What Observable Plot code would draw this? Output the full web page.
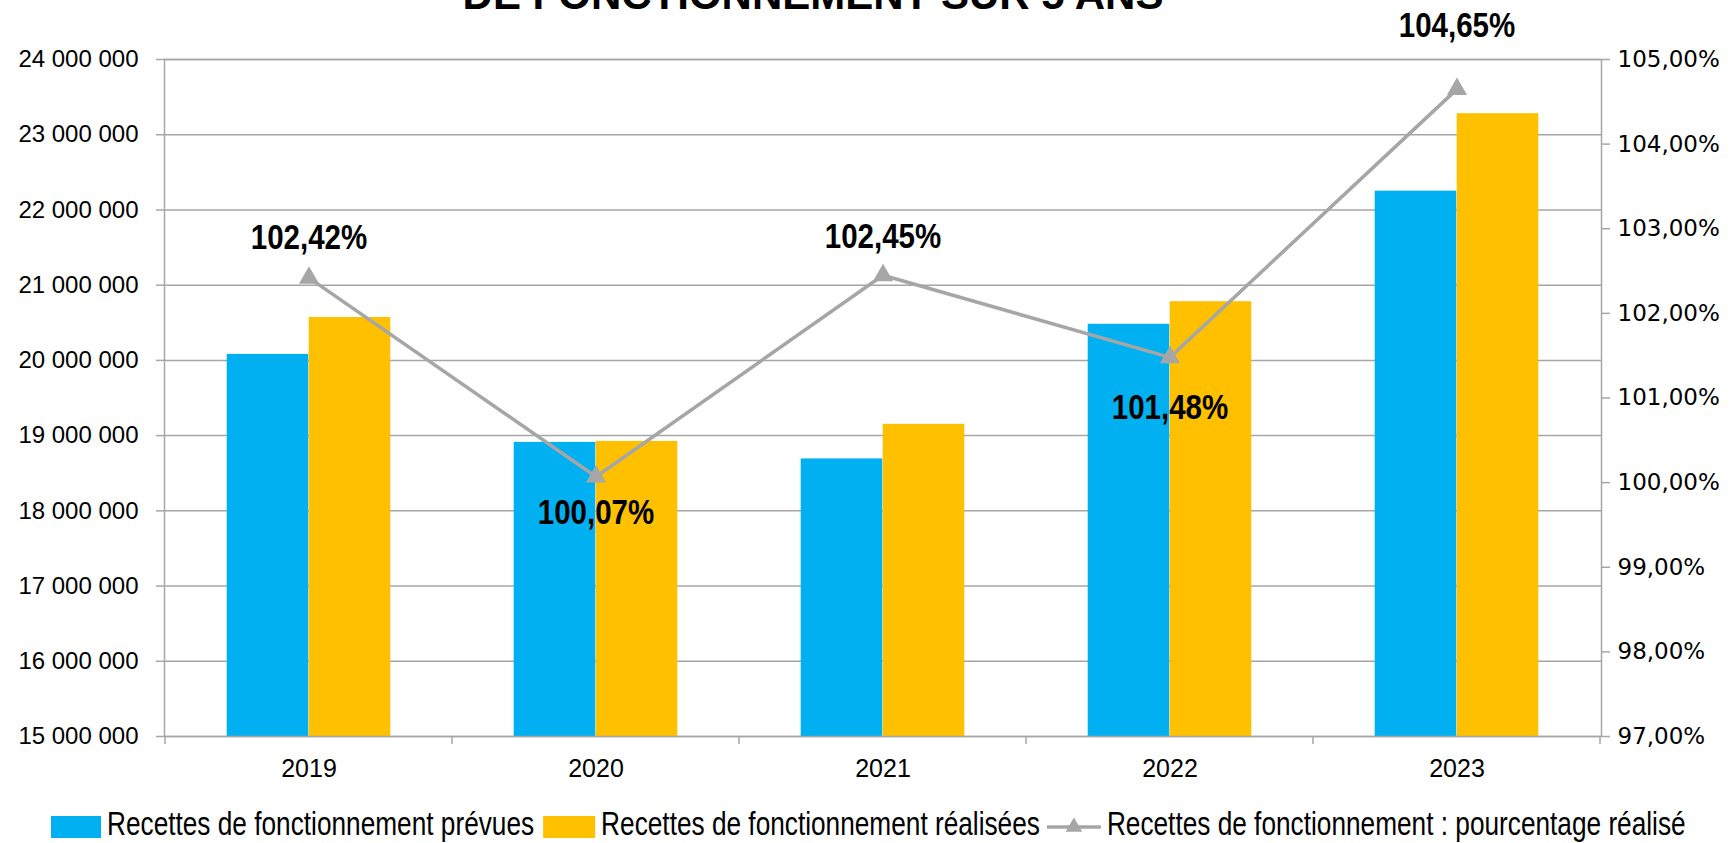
<!DOCTYPE html>
<html>
<head>
<meta charset="utf-8">
<script src="https://cdn.jsdelivr.net/npm/d3@7"></script>
<script src="https://cdn.jsdelivr.net/npm/@observablehq/plot@0.6"></script>
<style>
  html, body { margin: 0; padding: 0; background: #fff; width: 1734px; height: 843px; overflow: hidden; }
  #chart svg, #legend svg { display: block; }
</style>
</head>
<body>
<div id="chart"></div>
<div id="legend"></div>
<script>
// ---------- data ----------
const years = ["2019", "2020", "2021", "2022", "2023"];
const prevues = [20080000, 18910000, 18690000, 20480000, 22250000];
const realisees = [20570000, 18923000, 19150000, 20780000, 23280000];
const pourcentages = [102.42, 100.07, 102.45, 101.48, 104.65];
const leftTicks = [15000000, 16000000, 17000000, 18000000, 19000000, 20000000, 21000000, 22000000, 23000000, 24000000];
const rightTicks = [97, 98, 99, 100, 101, 102, 103, 104, 105];
const seriesNames = [
  "Recettes de fonctionnement prévues",
  "Recettes de fonctionnement réalisées",
  "Recettes de fonctionnement : pourcentage réalisé"
];
const titleText = "DE FONCTIONNEMENT SUR 5 ANS";

// ---------- styles ----------
const BLUE = "#00b0f0", GOLD = "#ffc000", GRAY = "#a6a6a6";
const SANS = '"Liberation Sans", Arial, sans-serif';
const NARROW_FACTOR = 0.82;
const labelDy = {"2019": -40, "2020": 36, "2021": -39, "2022": 50, "2023": -64};

const W = 1734, H = 800;
const mL = 164, mR = 133, mT = 59, mB = 64;
const step = (W - mL - mR) / years.length;
const barW = step * 0.2853;

const yMin = leftTicks[0], yMax = leftTicks[leftTicks.length - 1];
const pMin = rightTicks[0], pMax = rightTicks[rightTicks.length - 1];
const toY = d3.scaleLinear().domain([pMin, pMax]).range([yMin, yMax]);

const loc = d3.formatLocale({decimal: ",", thousands: " ", grouping: [3], currency: ["", "€"]});
const fmtInt = loc.format(",d");
const fmtPct = loc.format(".2f");

const rows = years.map((y, i) => ({year: y, prevue: prevues[i], realisee: realisees[i], pct: pourcentages[i]}));

function boundaryTicks(index, scales, values, dims) {
  const x = scales.x;
  const bw = x.bandwidth ? x.bandwidth() : step;
  const y0 = dims.height - dims.marginBottom;
  const g = d3.create("svg:g").attr("stroke", GRAY).attr("stroke-width", 1.5);
  const xs = years.map(v => x(v)).concat([x(years[years.length - 1]) + bw]);
  for (const px of xs) g.append("line").attr("x1", px).attr("x2", px).attr("y1", y0).attr("y2", y0 + 8);
  return g.node();
}

const labelMarks = rows.map(r => Plot.text([r], {
  x: "year", y: d => toY(d.pct), text: d => fmtPct(d.pct) + "%",
  dy: labelDy[r.year], lineAnchor: "middle", textAnchor: "middle",
  fontSize: 36, fontWeight: "bold", fontFamily: SANS, fill: "#000"
}));

const chart = Plot.plot({
  width: W, height: H,
  marginLeft: mL, marginRight: mR, marginTop: mT, marginBottom: mB,
  style: {fontFamily: SANS, background: "#fff", overflow: "hidden"},
  x: {type: "band", domain: years, padding: 0, axis: null, label: null},
  y: {domain: [yMin, yMax], axis: null, label: null},
  marks: [
    Plot.gridY(leftTicks, {stroke: GRAY, strokeOpacity: 1, strokeWidth: 1.5}),
    Plot.barY(rows, {x: "year", y1: yMin, y2: "prevue", fill: BLUE, insetLeft: step / 2 - barW, insetRight: step / 2}),
    Plot.barY(rows, {x: "year", y1: yMin, y2: "realisee", fill: GOLD, insetLeft: step / 2, insetRight: step / 2 - barW}),
    Plot.frame({stroke: GRAY, strokeWidth: 1.5}),
    boundaryTicks,
    Plot.line(rows, {x: "year", y: d => toY(d.pct), stroke: GRAY, strokeWidth: 3.5}),
    Plot.dot(rows, {x: "year", y: d => toY(d.pct), symbol: "triangle", r: 7.5, fill: GRAY, stroke: "none"}),
    ...labelMarks,
    Plot.axisY(leftTicks, {anchor: "left", tickSize: 8, tickPadding: 18, tickFormat: fmtInt, label: null,
      fontSize: 24, stroke: GRAY, strokeWidth: 1.5, fill: "#000", strokeOpacity: 1}),
    Plot.axisY(rightTicks.map(p => toY(p)), {anchor: "right", tickSize: 8, tickPadding: 8, label: null,
      tickFormat: v => fmtPct(Math.round(toY.invert(v) * 100) / 100) + "%",
      fontSize: 23, fontFamily: '"DejaVu Sans", Verdana, sans-serif', stroke: GRAY, strokeWidth: 1.5, fill: "#000", strokeOpacity: 1}),
    Plot.axisX({tickSize: 0, tickPadding: 23, fontSize: 25, fill: "#000", label: null}),
    Plot.text([titleText], {frameAnchor: "top", dx: -70, dy: -51, lineAnchor: "bottom", textAnchor: "middle",
      fontSize: 42, fontWeight: "bold", fontFamily: SANS, fill: "#000"})
  ]
});
document.getElementById("chart").appendChild(chart);

// condense a text element horizontally around its centre (Arial Narrow look)
function condense(el, f) {
  const b = el.getBBox();
  const c = b.x + b.width / 2;
  const prev = el.getAttribute("transform") || "";
  el.setAttribute("transform", `${prev} translate(${c},0) scale(${f},1) translate(${-c},0)`.trim());
}
const labelStrings = new Set(pourcentages.map(p => fmtPct(p) + "%"));
d3.select(chart).selectAll("text").each(function () {
  if (labelStrings.has(this.textContent.trim())) condense(this, NARROW_FACTOR);
});

// ---------- legend ----------
const lg = d3.select("#legend").append("svg").attr("width", W).attr("height", 43);
let cx = 51;
const baseY = 35;
const LEG_SIZE = 33, LEG_FACTOR = 0.795;
function legendText(str) {
  const g = lg.append("g").attr("transform", `translate(${cx},${baseY}) scale(${LEG_FACTOR},1)`);
  const t = g.append("text").attr("x", 0).attr("y", 0)
    .attr("font-family", SANS).attr("font-size", LEG_SIZE).attr("fill", "#000").text(str);
  cx += t.node().getComputedTextLength() * LEG_FACTOR;
}
lg.append("rect").attr("x", cx).attr("y", 16).attr("width", 50).attr("height", 22).attr("fill", BLUE);
cx += 50 + 6;
legendText(seriesNames[0]);
cx += 9;
lg.append("rect").attr("x", cx).attr("y", 16).attr("width", 52).attr("height", 22).attr("fill", GOLD);
cx += 52 + 6;
legendText(seriesNames[1]);
cx += 7;
lg.append("line").attr("x1", cx).attr("x2", cx + 54).attr("y1", 27).attr("y2", 27).attr("stroke", GRAY).attr("stroke-width", 3.5);
lg.append("path").attr("d", d3.symbol(d3.symbolTriangle, 120)()).attr("transform", `translate(${cx + 27},27)`).attr("fill", GRAY);
cx += 54 + 6;
legendText(seriesNames[2]);
</script>
</body>
</html>
